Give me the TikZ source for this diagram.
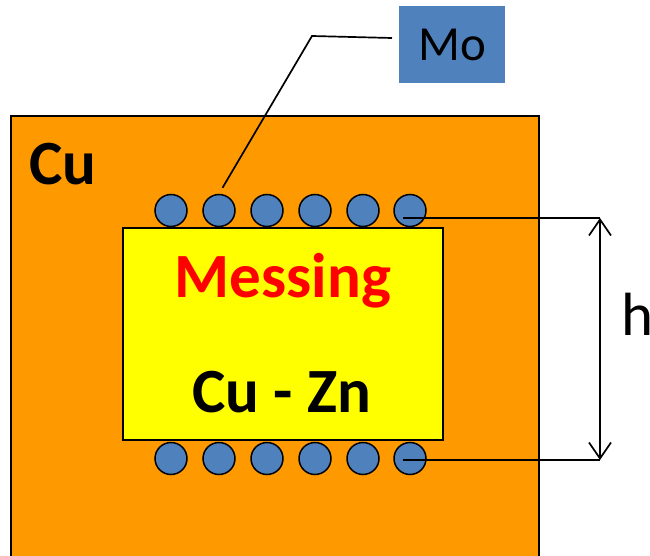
\documentclass[tikz,border=0pt]{standalone}
\usepackage{fontspec}
\setmainfont{Carlito}
\usetikzlibrary{arrows.meta,positioning}

\definecolor{cuorange}{HTML}{FF9900}
\definecolor{moblue}{HTML}{4F81BD}
\definecolor{brassyellow}{HTML}{FFFF00}

\begin{document}
\begin{tikzpicture}[
  x=1pt, y=-1pt,
  block/.style={draw, line width=1.8pt, inner sep=0pt},
  ball/.style={circle, draw, fill=moblue, line width=1.5pt, minimum size=32pt, inner sep=0pt},
  big/.style={font=\fontsize{63}{72}\selectfont\bfseries, inner sep=0pt},
  lead/.style={line width=1.7pt},
  dim/.style={{Straight Barb[length=16pt,width=22pt]}-{Straight Barb[length=16pt,width=22pt]}, line width=1.7pt}
]
\useasboundingbox (0,0) rectangle (650,556);

% ---- Cu body and brass insert ----
\node[block, fill=cuorange, anchor=north west, minimum width=528pt, minimum height=480pt] (cu) at (10,115) {};
\node[block, fill=brassyellow, anchor=north west, minimum width=320pt, minimum height=212pt] (brass) at (122,227) {};

\node[big, anchor=base west] (culab) at (29,185) {Cu};
\node[big, red, anchor=base] (messing) at (283,297) {Messing};
\node[big, anchor=base] (cuzn) at (282,412) {Cu - Zn};

% ---- Mo wires ----
\foreach \i/\x in {1/171,2/219,3/267,4/315,5/363,6/410}
  {\node[ball] (t\i) at (\x,210.5) {};
   \node[ball] (b\i) at (\x,458.5) {};}

% ---- Mo label ----
\node[fill=moblue, minimum width=106pt, minimum height=77pt, inner sep=0pt, font=\fontsize{49}{56}\selectfont] (mo) at (452,44.5) {Mo};
\coordinate (moend) at (392,38);
\coordinate (bend) at (312,36);
\draw[lead, shorten >=7pt] (moend) -- (bend) -- (t2.north);

% ---- height h ----
\coordinate (ttop) at (403,218);
\coordinate (tbot) at (403,460);
\coordinate (dtop) at (600,218);
\coordinate (dbot) at (600,460);
\draw[lead] (ttop) -- (dtop);
\draw[lead] (tbot) -- (dbot);
\draw[dim] (dtop) -- (dbot);
\node[font=\fontsize{61}{70}\selectfont, anchor=base west, inner sep=0pt] (hlab) at (621,335) {h};

\end{tikzpicture}
\end{document}
